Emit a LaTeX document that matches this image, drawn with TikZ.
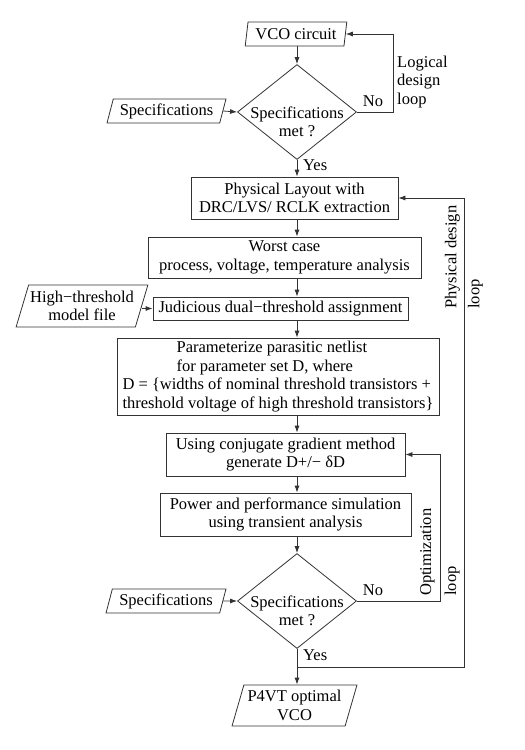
\documentclass[tikz,border=0pt]{standalone}
\usepackage{fontspec}
\setmainfont{Liberation Serif}
\usetikzlibrary{shapes.geometric,arrows.meta}
\begin{document}
\begin{tikzpicture}[x=1pt,y=-1pt,
  font=\fontsize{16.5}{18.5}\selectfont,
  every node/.style={inner sep=0pt, text=black},
  line/.style={draw=black!80, line width=0.8pt},
  arr/.style={line, -{Latex[length=7pt,width=5pt]}},
  box/.style={rectangle, draw=black!80, line width=0.8pt, align=center},
  para/.style 2 args={trapezium, trapezium left angle=#1, trapezium right angle=#2, trapezium stretches=true, draw=black!80, line width=0.8pt, align=center},
  dec/.style={diamond, draw=black!80, line width=0.8pt, minimum width=119pt, minimum height=95pt},
  rlbl/.style={rotate=90, anchor=west, align=left}
]
\useasboundingbox (0,0) rectangle (525,750);
\coordinate (ax) at (297,0);
\coordinate (lx) at (393,0);
\coordinate (px) at (464,0);
\coordinate (ox) at (440,0);
\coordinate (pj) at (297,667);

\node[para={78}{102}, minimum width=102pt, minimum height=24pt] (vco) at (296,34) {VCO circuit};
\node[dec] (d1) at (297,112) {};
\node[align=center] (d1t) at (297,122) {Specifications\\met ?};
\node[para={70}{110}, minimum width=119pt, minimum height=24pt] (spec1) at (166.5,111) {Specifications};
\node[box, minimum width=207pt, minimum height=42pt] (phys) at (294.5,198) {Physical Layout with\\DRC/LVS/ RCLK extraction};
\node[box, minimum width=273pt, minimum height=41pt] (worst) at (284.5,257.5) {Worst case\\process, voltage, temperature analysis};
\node[box, minimum width=255pt, minimum height=23pt] (jud) at (280.5,308.5) {Judicious dual−threshold assignment};
\node[para={68}{112}, minimum width=132pt, minimum height=42pt] (hth) at (82,306) {High−threshold\\model file};
\node[box, minimum width=322pt, minimum height=77pt, align=left] (param) at (278,376.5) {\hspace*{54pt}Parameterize parasitic netlist\\\hspace*{54pt}for parameter set D, where\\D = \{widths of nominal threshold transistors +\\threshold voltage of high threshold transistors\}};
\node[box, minimum width=239pt, minimum height=43pt] (conj) at (285.5,454.5) {Using conjugate gradient method\\generate D+/− δD};
\node[box, minimum width=251pt, minimum height=43pt] (power) at (285.5,514.5) {Power and performance simulation\\using transient analysis};
\node[dec] (d2) at (297,601) {};
\node[align=center] (d2t) at (297,611) {Specifications\\met ?};
\node[para={70}{110}, minimum width=120pt, minimum height=24pt] (spec2) at (166,601) {Specifications};
\node[para={70}{110}, minimum width=125pt, minimum height=41pt] (p4vt) at (294.5,705.5) {P4VT optimal\\VCO};

\node (no1) at (373,101) {No};
\node[anchor=west] (yes1) at (303,165) {Yes};
\node (no2) at (373,590) {No};
\node[anchor=west] (yes2) at (303,655) {Yes};
\node[anchor=west, align=left] (lgl) at (397,82) {Logical\\design\\loop};
\node[rlbl, font=\fontsize{16.5}{23}\selectfont] (pdl) at (464,309) {Physical design\\loop};
\node[rlbl, font=\fontsize{16.5}{25}\selectfont] (opl) at (440,596) {Optimization\\loop};

\draw[arr] (vco.south -| ax) -- (d1.north);
\draw[arr] (d1.south) -- (phys.north -| ax);
\draw[arr] (phys.south -| ax) -- (worst.north -| ax);
\draw[arr] (worst.south -| ax) -- (jud.north -| ax);
\draw[arr] (jud.south -| ax) -- (param.north -| ax);
\draw[arr] (param.south -| ax) -- (conj.north -| ax);
\draw[arr] (conj.south -| ax) -- (power.north -| ax);
\draw[arr] (power.south -| ax) -- (d2.north);
\draw[arr] (d2.south) -- (p4vt.north -| ax);
\draw[arr] (spec1.east) -- (d1.west);
\draw[arr] (spec2.east) -- (d2.west);
\draw[arr] (hth.east |- jud.west) -- (jud.west);
\draw[arr] (d1.east) -- (d1.east -| lx) -- (vco.east -| lx) -- (vco.east);
\draw[arr] (d2.east) -- (d2.east -| ox) -- (conj.east -| ox) -- (conj.east);
\draw[arr] (pj) -- (pj -| px) -- (phys.east -| px) -- (phys.east);
\end{tikzpicture}
\end{document}
